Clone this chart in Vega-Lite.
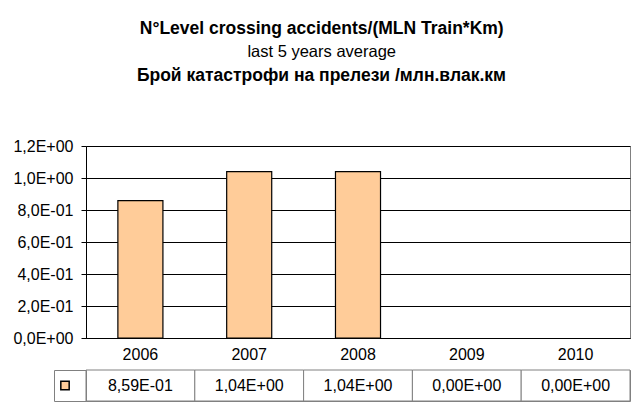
{
  "$schema": "https://vega.github.io/schema/vega-lite/v6.json",
  "background": "white",
  "padding": {"left": 12, "top": 20, "right": 10, "bottom": 5},
  "config": {
    "font": "Liberation Sans",
    "view": {"stroke": "#808080", "strokeWidth": 1}
  },
  "title": {
    "text": "N°Level crossing accidents/(MLN Train*Km)",
    "subtitle": "last 5 years average",
    "font": "Liberation Sans",
    "fontSize": 17.5,
    "fontWeight": "bold",
    "color": "black",
    "subtitleFont": "Liberation Sans",
    "subtitleFontSize": 16.5,
    "subtitleColor": "black",
    "subtitlePadding": 6,
    "anchor": "middle",
    "offset": 6
  },
  "data": {
    "values": [
      {"year": "2006", "value": 0.859},
      {"year": "2007", "value": 1.04},
      {"year": "2008", "value": 1.04},
      {"year": "2009", "value": 0},
      {"year": "2010", "value": 0}
    ]
  },
  "bounds": "flush",
  "spacing": 32,
  "resolve": {"scale": {"fill": "independent", "x": "independent"}, "legend": {"fill": "independent"}},
  "vconcat": [
    {
      "width": 544,
      "height": 192,
      "title": {
        "text": "Брой катастрофи  на прелези /млн.влак.км",
        "font": "Liberation Sans",
        "fontSize": 17.5,
        "fontWeight": "bold",
        "color": "black",
        "anchor": "middle",
        "frame": "bounds",
        "offset": 54
      },
      "transform": [{"filter": "datum.value > 0"}],
      "mark": {"type": "bar", "fill": "#FFCC99", "stroke": "black", "strokeWidth": 1.2, "width": {"band": 0.414}},
      "encoding": {
        "x": {
          "field": "year",
          "type": "ordinal",
          "scale": {"domain": ["2006", "2007", "2008", "2009", "2010"], "paddingInner": 0, "paddingOuter": 0},
          "axis": {
            "title": null,
            "labelAngle": 0,
            "ticks": false,
            "domainColor": "black",
            "labelFont": "Liberation Sans",
            "labelFontSize": 16,
            "labelColor": "black",
            "labelBaseline": "middle",
            "labelPadding": 16
          }
        },
        "y": {
          "field": "value",
          "type": "quantitative",
          "scale": {"domain": [0, 1.2], "nice": false},
          "axis": {
            "title": null,
            "values": [0, 0.2, 0.4, 0.6, 0.8, 1, 1.2],
            "labelExpr": "replace(replace(replace(format(datum.value, '.1e'), '.', ','), 'e', 'E'), regexp('E([+-])([0-9])$'), 'E$10$2')",
            "grid": true,
            "gridColor": "black",
            "domainColor": "black",
            "tickColor": "black",
            "tickSize": 5,
            "labelPadding": 8,
            "labelFont": "Liberation Sans",
            "labelFontSize": 16,
            "labelColor": "black"
          }
        }
      }
    },
    {
      "width": 544,
      "height": 31,
      "transform": [
        {"calculate": "replace(replace(replace(format(datum.value, '.2e'), '.', ','), 'e', 'E'), regexp('E([+-])([0-9])$'), 'E$10$2')", "as": "label"}
      ],
      "layer": [
        {
          "mark": {"type": "rect", "fill": "white", "stroke": "#808080", "strokeWidth": 1},
          "encoding": {
            "x": {"field": "year", "type": "ordinal", "axis": null, "scale": {"paddingInner": 0, "paddingOuter": 0}}
          }
        },
        {
          "mark": {"type": "text", "font": "Liberation Sans", "fontSize": 16, "color": "black"},
          "encoding": {
            "x": {"field": "year", "type": "ordinal"},
            "text": {"field": "label"}
          }
        },
        {
          "mark": {"type": "square", "opacity": 0},
          "encoding": {
            "fill": {
              "datum": "s",
              "scale": {"domain": ["s"], "range": ["#FFCC99"]},
              "legend": {
                "title": null,
                "orient": "left",
                "offset": 0,
                "padding": 6,
                "strokeColor": "#808080",
                "symbolType": "square",
                "symbolSize": 70,
                "symbolStrokeColor": "black",
                "symbolStrokeWidth": 1.5,
                "symbolOpacity": 1,
                "labelExpr": "''",
                "labelOffset": 10,
                "clipHeight": 19
              }
            }
          }
        }
      ]
    }
  ]
}
